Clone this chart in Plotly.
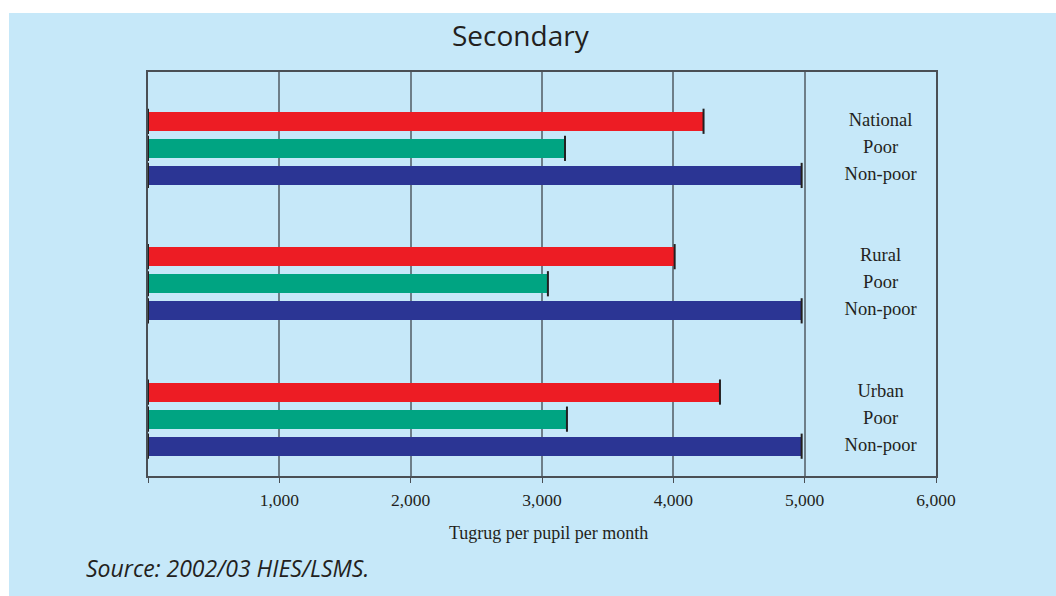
import plotly.graph_objects as go

groups = ["National", "Rural", "Urban"]
sub_labels = ["Poor", "Non-poor"]
overall = [4230, 4010, 4355]
poor = [3175, 3045, 3190]
nonpoor = [4977, 4977, 4977]
x_ticks = [0, 1000, 2000, 3000, 4000, 5000, 6000]
x_ticktext = ["", "1,000", "2,000", "3,000", "4,000", "5,000", "6,000"]

RED = "#ed1c24"
GREEN = "#00a482"
NAVY = "#2b3594"
BG = "#c6e8f9"
SERIF = "Liberation Serif, Times New Roman, serif"
SANS = "Open Sans, sans-serif"

# slot positions: 3 bars per group, 2 empty slots between groups
y_red = [g * 5 + 0 for g in range(3)]
y_poor = [g * 5 + 1 for g in range(3)]
y_non = [g * 5 + 2 for g in range(3)]

fig = go.Figure()
for ys, vals, col in [(y_red, overall, RED), (y_poor, poor, GREEN), (y_non, nonpoor, NAVY)]:
    fig.add_trace(go.Bar(x=vals, y=ys, orientation="h", width=0.7,
                         marker=dict(color=col, line=dict(width=0)),
                         showlegend=False, hoverinfo="x"))

# dark end caps on bars
all_y = y_red + y_poor + y_non
all_v = overall + poor + nonpoor
fig.add_trace(go.Scatter(x=all_v + [0] * len(all_v), y=all_y + all_y, mode="markers",
                         marker=dict(symbol="line-ns", size=18,
                                     line=dict(width=2, color="#231f20")),
                         showlegend=False, hoverinfo="skip", cliponaxis=False))

# right-side labels
lab_y = []
lab_t = []
for g, name in enumerate(groups):
    lab_y += [g * 5, g * 5 + 1, g * 5 + 2]
    lab_t += [name] + sub_labels
fig.add_trace(go.Scatter(x=[5578] * len(lab_y), y=lab_y, mode="text", text=lab_t,
                         textposition="middle center",
                         textfont=dict(family=SERIF, size=18.5, color="#231f20"),
                         showlegend=False, hoverinfo="skip"))

L, R, T, B = 148, 120, 72, 120
W, H = 1056, 596
pw, ph = W - L - R, H - T - B

def px_x(x):
    return (x - L) / pw

def px_y(y):
    return (H - B - y) / ph

fig.add_shape(type="rect", xref="paper", yref="paper",
              x0=px_x(9), x1=px_x(1060), y0=px_y(600), y1=px_y(13),
              fillcolor=BG, line=dict(width=0), layer="below")

fig.add_annotation(text="Secondary", xref="paper", yref="paper",
                   x=px_x(521), y=px_y(35), showarrow=False,
                   xanchor="center", yanchor="middle",
                   font=dict(family=SANS, size=28, color="#231f20"))
fig.add_annotation(text="Tugrug per pupil per month", xref="paper", yref="paper",
                   x=px_x(548), y=px_y(533), showarrow=False,
                   xanchor="center", yanchor="middle",
                   font=dict(family=SERIF, size=18, color="#231f20"))
fig.add_annotation(text="<i>Source: 2002/03 HIES/LSMS.</i>", xref="paper", yref="paper",
                   x=px_x(84), y=px_y(568), showarrow=False,
                   xanchor="left", yanchor="middle",
                   font=dict(family=SANS, size=23, color="#231f20"))

fig.update_layout(
    width=W, height=H,
    margin=dict(l=L, r=R, t=T, b=B),
    paper_bgcolor="white", plot_bgcolor="rgba(0,0,0,0)",
    bargap=0, barmode="overlay",
    xaxis=dict(range=[0, 6000], tickvals=x_ticks, ticktext=x_ticktext,
               showgrid=True, gridcolor="#6e7e89", gridwidth=1.5,
               showline=True, linecolor="#4a4f55", linewidth=1.5, mirror=True,
               ticks="outside", ticklen=5, tickcolor="#4a4f55",
               ticklabelstandoff=2, zeroline=False,
               tickfont=dict(family=SERIF, size=17.5, color="#231f20")),
    yaxis=dict(range=[13.1, -1.82], showticklabels=False, showgrid=False,
               zeroline=False, showline=True, linecolor="#4a4f55", linewidth=1.5,
               mirror=True, ticks=""),
)

fig.write_html("out.html", config={"displayModeBar": False},
               post_script="document.body.style.margin='0';")
